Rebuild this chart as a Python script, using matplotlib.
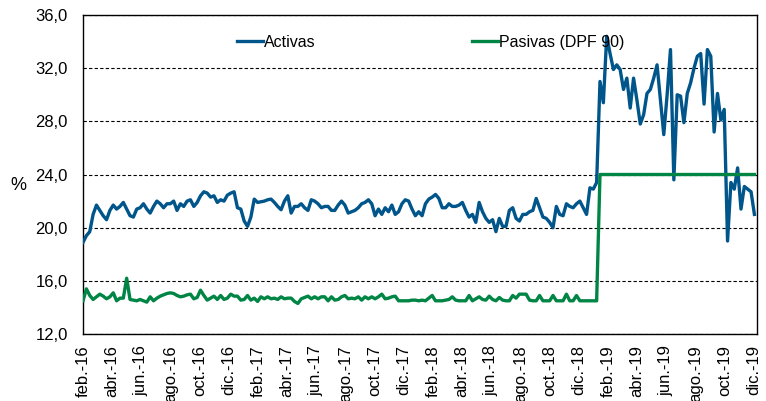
import pandas as pd
import matplotlib
matplotlib.use('Agg')
import matplotlib.pyplot as plt
from matplotlib.ticker import FuncFormatter

plt.rcParams['font.family'] = ['Liberation Sans', 'DejaVu Sans']

# tasas semanales (%), desde feb-2016
activas = [
    18.9, 19.4, 19.7, 21.0, 21.7, 21.3, 20.9, 20.6, 21.3, 21.7,
    21.4, 21.6, 21.9, 21.4, 20.9, 20.8, 21.4, 21.5, 21.8, 21.4,
    21.1, 21.6, 22.0, 21.8, 21.5, 21.8, 21.8, 22.0, 21.3, 21.8,
    21.6, 22.0, 22.1, 21.6, 21.9, 22.4, 22.7, 22.6, 22.3, 22.4,
    21.9, 22.1, 22.0, 22.45, 22.6, 22.7, 21.5, 21.4, 20.5, 20.1,
    20.8, 22.15, 21.9, 21.95, 22.0, 22.1, 22.15, 21.9, 21.6, 21.35,
    22.0, 22.4, 21.1, 21.6, 21.6, 21.8, 21.5, 21.3, 22.1, 22.0,
    21.8, 21.5, 21.6, 21.6, 21.3, 21.3, 21.7, 22.0, 21.7, 21.1,
    21.2, 21.3, 21.5, 21.8, 21.9, 22.1, 21.8, 20.9, 21.4, 21.0,
    21.5, 21.2, 21.7, 21.0, 21.2, 21.8, 22.1, 22.0, 21.4, 20.9,
    21.2, 20.9, 21.8, 22.15, 22.3, 22.5, 22.2, 21.5, 21.5, 21.8,
    21.6, 21.6, 21.7, 21.9, 21.3, 20.8, 21.0, 20.4, 21.9, 21.2,
    20.7, 20.4, 20.6, 19.7, 20.7, 20.1, 20.1, 21.3, 21.5, 20.7,
    20.5, 21.0, 21.0, 21.2, 21.3, 22.2, 21.5, 20.8, 20.7, 20.4,
    20.0, 21.6, 21.0, 20.9, 21.8, 21.6, 21.5, 21.8, 22.0, 21.5,
    21.0, 23.0, 22.9, 23.4, 31.0, 29.4, 34.4, 33.1, 31.9, 32.25,
    31.9, 30.4, 31.25, 29.0, 31.25, 29.6, 27.8, 28.5, 30.1, 30.4,
    31.25, 32.25, 29.6, 27.0, 30.0, 33.4, 23.6, 30.0, 29.9, 27.9,
    30.1, 30.9, 32.0, 32.9, 33.1, 29.3, 33.4, 32.9, 27.2, 30.1,
    28.1, 28.9, 19.0, 23.4, 22.9, 24.5, 21.4, 23.1, 22.9, 22.7,
    21.0,
]

pasivas = [
    14.5, 15.4, 14.9, 14.6, 14.8, 15.0, 14.85, 14.65, 14.8, 15.1,
    14.5, 14.7, 14.7, 16.2, 14.6, 14.55, 14.5, 14.6, 14.5, 14.4,
    14.8, 14.5, 14.7, 14.85, 14.95, 15.05, 15.1, 15.05, 14.9, 14.8,
    14.85, 14.95, 15.0, 14.65, 14.75, 15.3, 14.9, 14.55, 14.7, 14.85,
    14.6, 14.9, 14.6, 14.7, 15.0, 14.85, 14.85, 14.55, 14.6, 14.9,
    14.55, 14.7, 14.45, 14.8, 14.65, 14.8, 14.65, 14.7, 14.6, 14.8,
    14.65, 14.7, 14.7, 14.45, 14.3, 14.65, 14.75, 14.85, 14.65, 14.8,
    14.65, 14.8, 14.8, 14.5, 14.8, 14.55, 14.6, 14.8, 14.9, 14.65,
    14.7, 14.65, 14.8, 14.55, 14.8, 14.65, 14.8, 14.65, 14.8, 15.0,
    14.65, 14.7, 14.8, 14.85, 14.5, 14.5, 14.5, 14.5, 14.55, 14.55,
    14.5, 14.55, 14.5, 14.7, 14.9, 14.5, 14.5, 14.5, 14.55, 14.6,
    14.8, 14.55, 14.5, 14.5, 14.5, 14.9, 14.5, 14.65, 14.8, 14.6,
    14.55, 14.85, 14.6, 14.5, 14.75, 14.55, 14.5, 14.5, 14.9, 14.7,
    15.0, 15.0, 15.0, 14.55, 14.5, 14.5, 14.9, 14.5, 14.5, 14.5,
    14.9, 14.5, 14.5, 14.5, 15.0, 14.5, 14.5, 14.9, 14.5, 14.5,
    14.5, 14.5, 14.5, 14.5, 24.0, 24.0, 24.0, 24.0, 24.0, 24.0,
    24.0, 24.0, 24.0, 24.0, 24.0, 24.0, 24.0, 24.0, 24.0, 24.0,
    24.0, 24.0, 24.0, 24.0, 24.0, 24.0, 24.0, 24.0, 24.0, 24.0,
    24.0, 24.0, 24.0, 24.0, 24.0, 24.0, 24.0, 24.0, 24.0, 24.0,
    24.0, 24.0, 24.0, 24.0, 24.0, 24.0, 24.0, 24.0, 24.0, 24.0,
    24.0,
]

meses = ['ene.', 'feb.', 'mar.', 'abr.', 'may.', 'jun.',
         'jul.', 'ago.', 'sep.', 'oct.', 'nov.', 'dic.']

fechas = pd.date_range('2016-02-01', periods=len(activas), freq='7D')
ticks = pd.date_range('2016-02-01', '2019-12-01', freq='2MS')

fig = plt.figure(figsize=(7.66, 4.01), dpi=100)
ax = fig.add_axes([0.1084, 0.167, 0.8796, 0.7956])

ax.plot(fechas, activas, color='#00558B', lw=2.4, label='Activas', zorder=3)
ax.plot(fechas, pasivas, color='#008545', lw=2.4, label='Pasivas (DPF 90)', zorder=3)

ax.set_ylim(12, 36)
ax.set_yticks(range(12, 37, 4))
ax.yaxis.set_major_formatter(FuncFormatter(lambda v, p: f'{v:.1f}'.replace('.', ',')))
ax.set_xlim(pd.Timestamp('2016-02-01'), pd.Timestamp('2019-12-07'))
ax.set_xticks(ticks)
ax.set_xticklabels([meses[t.month - 1] + '-' + t.strftime('%y') for t in ticks], rotation=90)

ax.grid(axis='y', color='black', linestyle=(0, (3, 2)), linewidth=0.8)
ax.tick_params(axis='both', length=0, labelsize=12, colors='black')
ax.tick_params(axis='y', pad=11)
ax.tick_params(axis='x', pad=8)
for s in ax.spines.values():
    s.set_linewidth(1.0)
    s.set_color('black')

ax.set_ylabel('%', rotation=0, fontsize=13)
ax.yaxis.set_label_coords(-0.096, 0.44)

ax.legend(loc='center left', bbox_to_anchor=((237 - 83) / 674, 0.915),
          ncol=2, frameon=False, fontsize=11.5, handlelength=1.6,
          handletextpad=0.1, columnspacing=9.8, borderpad=0, borderaxespad=0)

fig.savefig('out.png', dpi=100)
